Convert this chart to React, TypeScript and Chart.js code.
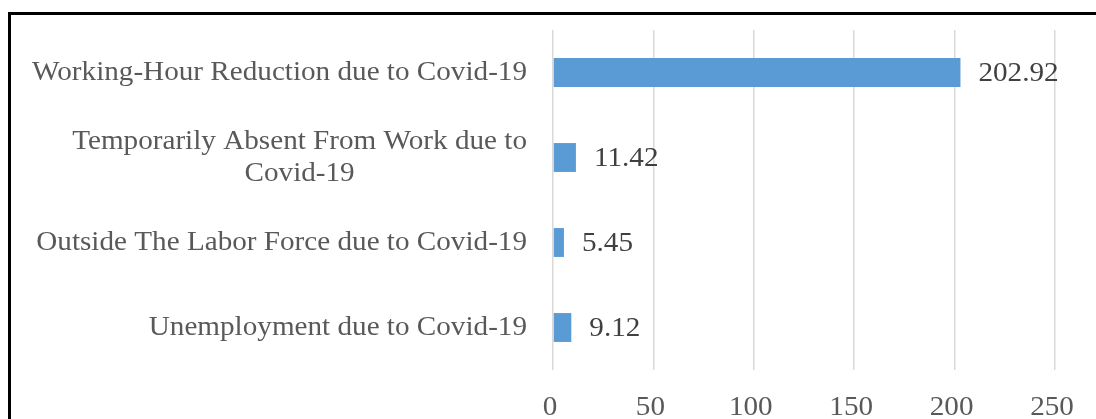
import React, { useEffect, useRef } from "react";
import { Chart, registerables } from "chart.js";

Chart.register(...registerables);

// Category labels (multi-line entries are split into separate lines)
const categories: string[][] = [
  ["Working-Hour Reduction due to Covid-19"],
  ["Temporarily Absent From Work due to", "Covid-19"],
  ["Outside The Labor Force due to Covid-19"],
  ["Unemployment due to Covid-19"],
];
const values = [202.92, 11.42, 5.45, 9.12];
const valueLabels = ["202.92", "11.42", "5.45", "9.12"];
const xMin = 0;
const xMax = 250;
const xStep = 50;

const FONT_FAMILY = "'Liberation Serif', 'Times New Roman', serif";
const FONT_SIZE = 27;
const STRETCH = 1.08; // slightly wide serif lettering
const BAR_COLOR = "#5b9bd5";
const GRID_COLOR = "#d9d9d9";
const LABEL_COLOR = "#595959";
const VALUE_COLOR = "#404040";

function drawText(
  ctx: CanvasRenderingContext2D,
  text: string,
  x: number,
  y: number,
  align: CanvasTextAlign
) {
  ctx.save();
  ctx.translate(x, y);
  ctx.scale(STRETCH, 1);
  ctx.textAlign = align;
  ctx.fillText(text, 0, 0);
  ctx.restore();
}

// Draws category blocks, x tick labels and value labels
const labelPlugin = {
  id: "barLabels",
  afterDraw(chart: any) {
    const ctx: CanvasRenderingContext2D = chart.ctx;
    const yScale = chart.scales.y;
    const xScale = chart.scales.x;
    const area = chart.chartArea;
    ctx.save();
    ctx.font = `${FONT_SIZE}px ${FONT_FAMILY}`;
    ctx.textBaseline = "middle";

    // category labels: block right-aligned to the axis, lines centred inside it
    const lineHeight = 32;
    ctx.fillStyle = LABEL_COLOR;
    categories.forEach((lines, i) => {
      const cy = yScale.getPixelForTick(i);
      const maxW = Math.max(...lines.map((l) => ctx.measureText(l).width)) * STRETCH;
      const blockRight = area.left - 26;
      const cx = blockRight - maxW / 2;
      const startY = cy - ((lines.length - 1) * lineHeight) / 2;
      lines.forEach((line, j) => {
        drawText(ctx, line, cx, startY + j * lineHeight, "center");
      });
    });

    // x tick labels
    xScale.ticks.forEach((t: any) => {
      const x = xScale.getPixelForValue(t.value) - 3;
      drawText(ctx, String(t.value), x, area.bottom + 38, "center");
    });

    // value labels
    ctx.fillStyle = VALUE_COLOR;
    const meta = chart.getDatasetMeta(0);
    meta.data.forEach((bar: any, i: number) => {
      const x = xScale.getPixelForValue(values[i]) + 18;
      drawText(ctx, valueLabels[i], x, bar.y + 1, "left");
    });
    ctx.restore();
  },
};

function BarChart() {
  const canvasRef = useRef<HTMLCanvasElement | null>(null);

  useEffect(() => {
    if (!canvasRef.current) return;
    const chart = new Chart(canvasRef.current, {
      type: "bar",
      data: {
        labels: categories.map((c) => c.join(" ")),
        datasets: [
          {
            data: values,
            backgroundColor: BAR_COLOR,
            borderWidth: 0,
            categoryPercentage: 0.34,
            barPercentage: 1,
          },
        ],
      },
      options: {
        indexAxis: "y",
        animation: false,
        responsive: true,
        maintainAspectRatio: false,
        layout: { padding: { top: 30, right: 41, left: 0, bottom: 0 } },
        plugins: {
          legend: { display: false },
          tooltip: { enabled: false },
        },
        scales: {
          x: {
            min: xMin,
            max: xMax,
            ticks: { stepSize: xStep, display: false },
            grid: { color: GRID_COLOR, lineWidth: 1.5, drawTicks: false },
            border: { display: false },
            afterFit: (scale: any) => {
              scale.height = 49;
            },
          },
          y: {
            ticks: { display: false },
            grid: { display: false, drawTicks: false },
            border: { display: false },
            afterFit: (scale: any) => {
              scale.width = 553;
            },
          },
        },
      },
      plugins: [labelPlugin],
    });
    return () => chart.destroy();
  }, []);

  return <canvas ref={canvasRef} />;
}

export default function App() {
  return (
    <div
      style={{
        position: "absolute",
        left: 0,
        top: 0,
        width: 1096,
        height: 419,
        overflow: "hidden",
        background: "#ffffff",
      }}
    >
      <div
        style={{
          position: "absolute",
          left: 8,
          top: 12,
          width: 1200,
          height: 600,
          borderLeft: "3px solid #000",
          borderTop: "3px solid #000",
        }}
      />
      <div style={{ position: "absolute", left: 0, top: 0, width: 1096, height: 419 }}>
        <BarChart />
      </div>
    </div>
  );
}
